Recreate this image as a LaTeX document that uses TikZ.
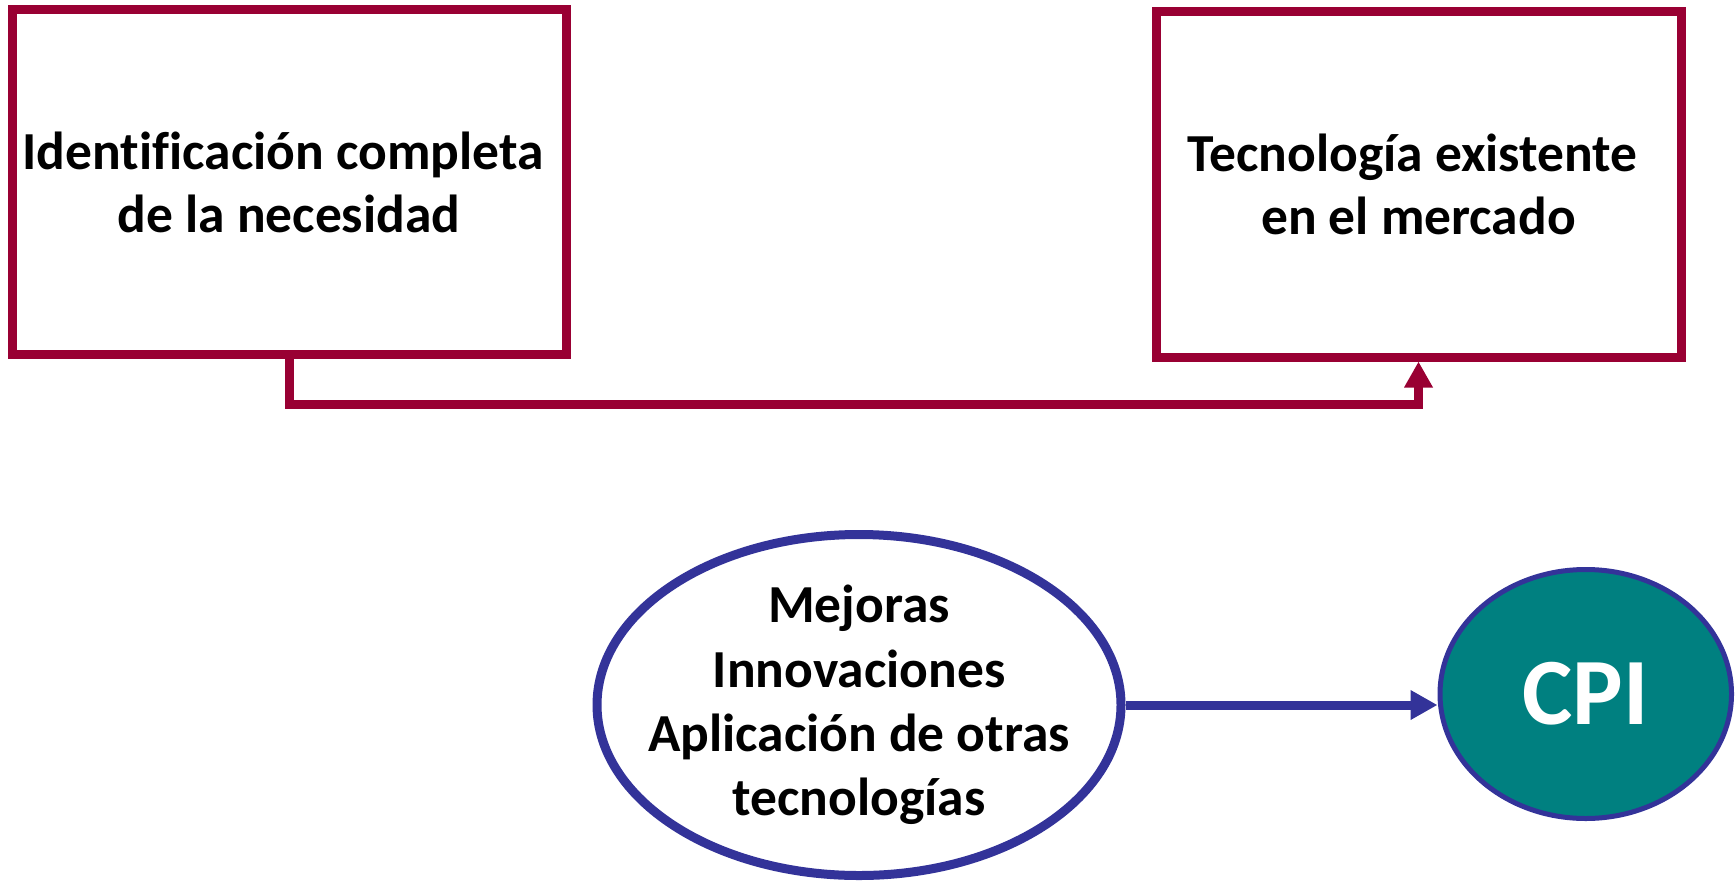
\documentclass[tikz,border=0pt]{standalone}
\usepackage{fontspec}
\setmainfont{Carlito}[Ligatures=NoCommon]
\usetikzlibrary{arrows.meta,shapes.geometric}
\definecolor{boxred}{RGB}{153,0,51}
\definecolor{ellblue}{RGB}{51,51,153}
\definecolor{cpiteal}{RGB}{0,128,128}
\begin{document}
\begin{tikzpicture}[x=1pt,y=-1pt,
  redbox/.style={draw=boxred,line width=9pt,rectangle,align=center,
    font=\fontsize{53.5}{63}\selectfont\bfseries},
  ovalnode/.style={draw=ellblue,line width=9pt,ellipse,align=center,inner sep=-30pt,
    font=\fontsize{53.5}{64.3}\selectfont\bfseries},
  cpinode/.style={draw=ellblue,line width=5pt,ellipse,fill=cpiteal,text=white,
    font=\fontsize{95}{100}\selectfont\bfseries},
  redarrow/.style={draw=boxred,line width=9pt,-{Triangle[width=27pt,length=26pt]}},
  bluearrow/.style={draw=ellblue,line width=9pt,-{Triangle[width=28pt,length=27pt]}}
]
\useasboundingbox (0,0) rectangle (1736,883);
\node[redbox,minimum width=554pt,minimum height=344pt] (b1) at (289,182)
  {Identificación completa\kern12pt\\de la necesidad};
\node[redbox,minimum width=525pt,minimum height=345pt] (b2) at (1418.5,184.5)
  {Tecnología existente\kern12pt\\en el mercado};
\coordinate (lvl) at (0,404);
\draw[redarrow] (b1.south) |- (lvl -| b2.south) -- (b2.south);
\node[ovalnode,minimum width=524pt,minimum height=341pt] (e1) at (859,705)
  {Mejoras\\Innovaciones\\Aplicación de otras\\tecnologías};
\node[cpinode,minimum width=291.5pt,minimum height=249pt] (cpi) at (1585.75,694) {CPI};
\draw[bluearrow] (e1.east) -- (e1.east -| cpi.west);
\end{tikzpicture}
\end{document}
